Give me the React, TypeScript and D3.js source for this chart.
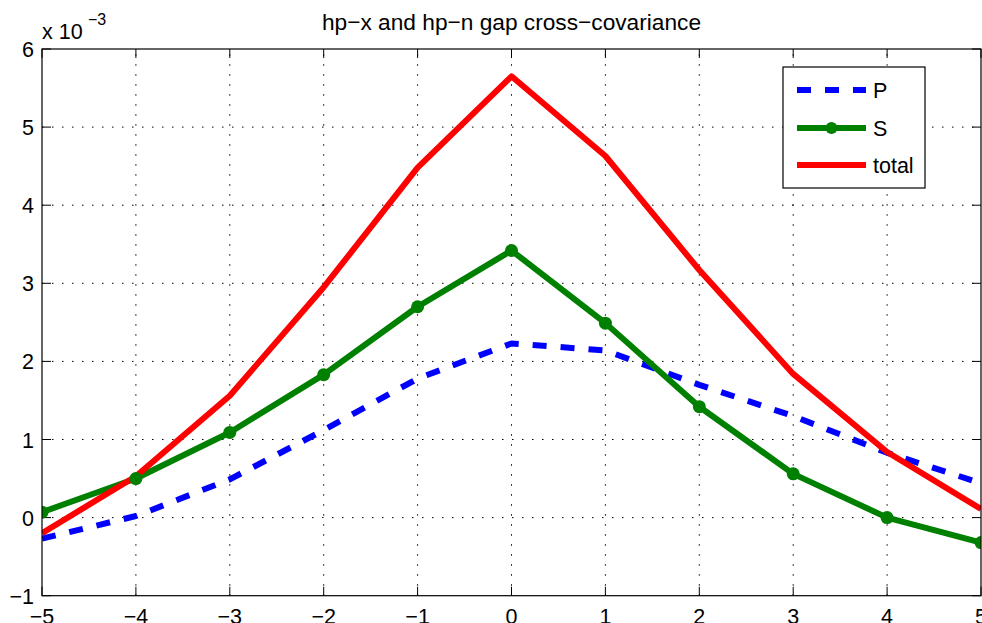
import * as d3 from "d3";
import React from "react";

// lags and the three cross-covariance series (values in units of 1e-3)
const lags = [-5, -4, -3, -2, -1, 0, 1, 2, 3, 4, 5];
const seriesP = [-0.27, 0.02, 0.49, 1.12, 1.78, 2.23, 2.14, 1.7, 1.3, 0.83, 0.44];
const seriesS = [0.07, 0.5, 1.09, 1.83, 2.7, 3.42, 2.49, 1.42, 0.56, 0.0, -0.32];
const seriesTotal = [-0.2, 0.53, 1.56, 2.95, 4.48, 5.65, 4.63, 3.17, 1.84, 0.84, 0.11];
const xTicks = [-5, -4, -3, -2, -1, 0, 1, 2, 3, 4, 5];
const yTicks = [-1, 0, 1, 2, 3, 4, 5, 6];
const legendLabels = ["P", "S", "total"];

const W = 982;
const H = 623;
const margin = { top: 49, right: 1, bottom: 27, left: 42 };
const font = "'Liberation Sans', Arial, Helvetica, sans-serif";
const fs = 21.5;
const lw = 6;

const fmt = (v: number) => (v < 0 ? "\u2212" + Math.abs(v) : String(v));

export default function App() {
  const x = d3.scaleLinear().domain([-5, 5]).range([margin.left, W - margin.right]);
  const y = d3.scaleLinear().domain([-1, 6]).range([H - margin.bottom - 0.3, margin.top]);

  const line = d3
    .line<number>()
    .x((_, i) => x(lags[i]))
    .y((d) => y(d));

  const [x0, x1] = x.range();
  const [y0, y1] = y.range();
  const tickLen = 9;

  const legendX = 783;
  const legendY = 67;
  const rows = [90, 128, 165];

  return (
    <div style={{ position: "fixed", left: 0, top: 0 }}>
      <svg width={W} height={H} style={{ display: "block", background: "#fff" }}>
        <defs>
          <clipPath id="plotclip">
            <rect x={x0} y={y1} width={x1 - x0} height={y0 - y1} />
          </clipPath>
        </defs>
        {/* grid */}
        <g stroke="#000" strokeWidth={1} strokeDasharray="1.5,8.5">
          {xTicks.slice(1, -1).map((t) => (
            <line key={"gx" + t} x1={x(t)} x2={x(t)} y1={y0} y2={y1} />
          ))}
          {yTicks.slice(1, -1).map((t) => (
            <line key={"gy" + t} x1={x0} x2={x1} y1={y(t)} y2={y(t)} />
          ))}
        </g>
        {/* ticks on all four sides */}
        <g stroke="#000" strokeWidth={1}>
          {xTicks.map((t) => (
            <g key={"tx" + t}>
              <line x1={x(t)} x2={x(t)} y1={y0} y2={y0 - tickLen} />
              <line x1={x(t)} x2={x(t)} y1={y1} y2={y1 + tickLen} />
            </g>
          ))}
          {yTicks.map((t) => (
            <g key={"ty" + t}>
              <line x1={x0} x2={x0 + tickLen} y1={y(t)} y2={y(t)} />
              <line x1={x1} x2={x1 - tickLen} y1={y(t)} y2={y(t)} />
            </g>
          ))}
        </g>
        {/* series */}
        <g clipPath="url(#plotclip)" fill="none" strokeLinejoin="round">
          <path d={line(seriesP) ?? ""} stroke="#0000ff" strokeWidth={lw} strokeDasharray="14,14" />
          <path d={line(seriesS) ?? ""} stroke="#008000" strokeWidth={lw} />
          <path d={line(seriesTotal) ?? ""} stroke="#ff0000" strokeWidth={lw} />
          {seriesS.map((v, i) => (
            <circle key={"m" + i} cx={x(lags[i])} cy={y(v)} r={6.5} fill="#008000" />
          ))}
        </g>
        {/* axes box */}
        <rect x={x0} y={y1} width={x1 - x0} height={y0 - y1} fill="none" stroke="#000" strokeWidth={1.2} />
        {/* tick labels */}
        <g fontFamily={font} fontSize={fs} fill="#000">
          {xTicks.map((t) => (
            <text key={"lx" + t} x={x(t)} y={623.5} textAnchor="middle">
              {fmt(t)}
            </text>
          ))}
          {yTicks.map((t) => (
            <text key={"ly" + t} x={34} y={y(t) + 8} textAnchor="end">
              {fmt(t)}
            </text>
          ))}
          <text x={42} y={39}>
            x 10
          </text>
          <text x={88} y={25} fontSize={16}>
            {"\u22123"}
          </text>
        </g>
        {/* title */}
        <text x={(x0 + x1) / 2} y={30} textAnchor="middle" fontFamily={font} fontSize={22.7} fill="#000">
          hp{"\u2212"}x and hp{"\u2212"}n gap cross{"\u2212"}covariance
        </text>
        {/* legend */}
        <g>
          <rect x={legendX} y={legendY} width={142} height={121} fill="#fff" stroke="#000" strokeWidth={1.2} />
          <line x1={797} x2={866} y1={rows[0]} y2={rows[0]} stroke="#0000ff" strokeWidth={lw} strokeDasharray="14,14" />
          <line x1={797} x2={866} y1={rows[1]} y2={rows[1]} stroke="#008000" strokeWidth={lw} />
          <circle cx={831.5} cy={rows[1]} r={6} fill="#008000" />
          <line x1={797} x2={866} y1={rows[2]} y2={rows[2]} stroke="#ff0000" strokeWidth={lw} />
          {legendLabels.map((l, i) => (
            <text key={l} x={873} y={rows[i] + 8} fontFamily={font} fontSize={fs} fill="#000">
              {l}
            </text>
          ))}
        </g>
      </svg>
    </div>
  );
}
